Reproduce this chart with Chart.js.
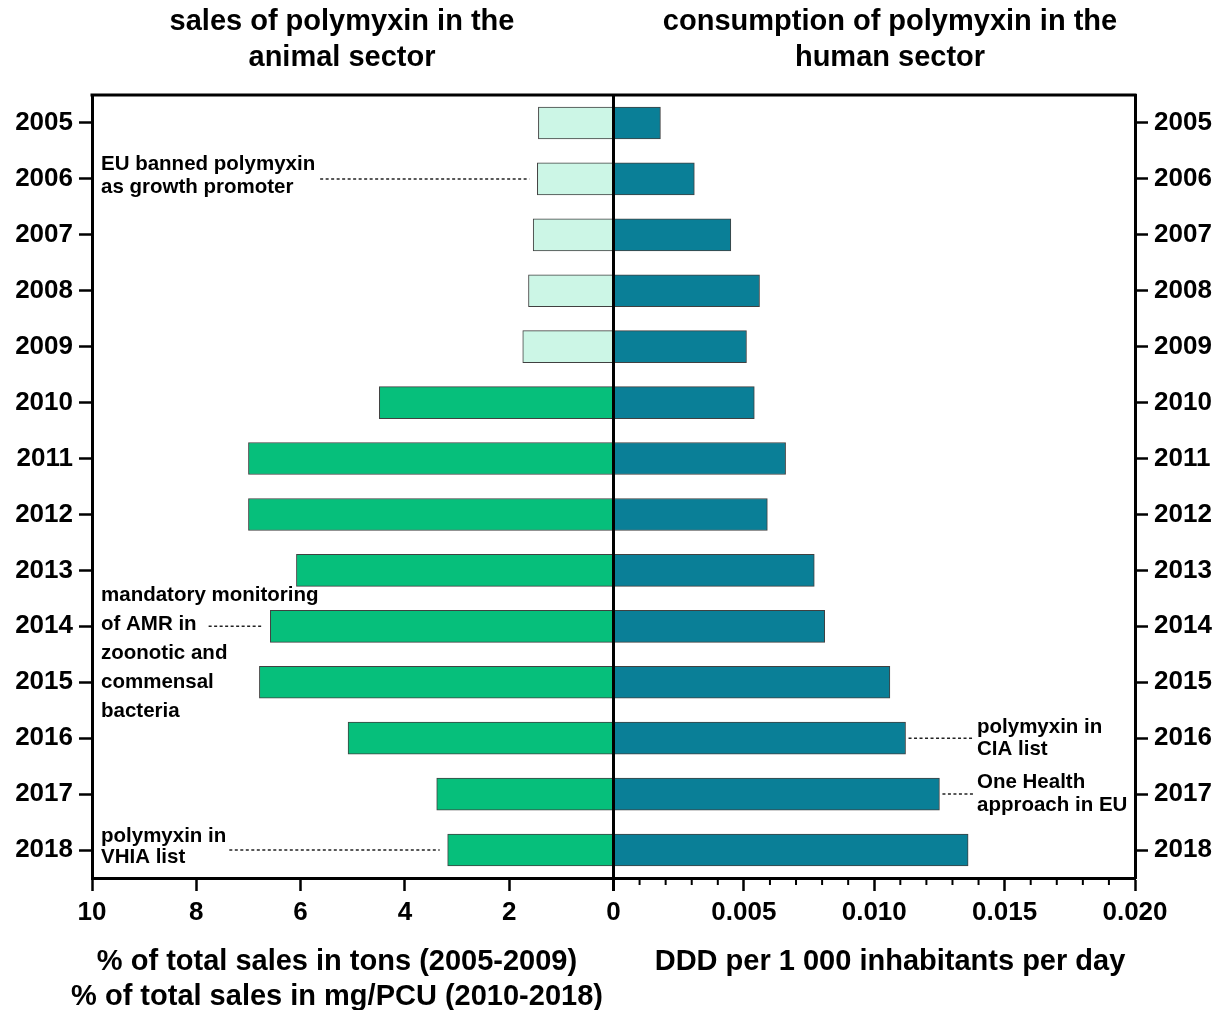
<!DOCTYPE html>
<html>
<head>
<meta charset="utf-8">
<script src="https://cdn.jsdelivr.net/npm/chart.js@4"></script>
<style>
body { margin: 0; background: #fff; }
#wrap { width: 1223px; height: 1010px; }
</style>
</head>
<body>
<div id="wrap"><canvas id="chart"></canvas></div>
<script>
var years = ["2005", "2006", "2007", "2008", "2009", "2010", "2011", "2012", "2013", "2014", "2015", "2016", "2017", "2018"];
// animal sector: % of total sales (tons until 2009, mg/PCU from 2010)
var animalSales = [1.44, 1.46, 1.54, 1.63, 1.74, 4.49, 7.0, 7.0, 6.08, 6.58, 6.79, 5.09, 3.39, 3.18];
// human sector: DDD per 1 000 inhabitants per day
var humanDDD = [0.0018, 0.0031, 0.0045, 0.0056, 0.0051, 0.0054, 0.0066, 0.0059, 0.0077, 0.0081, 0.0106, 0.0112, 0.0125, 0.0136];

var leftTickLabels = ["0", "2", "4", "6", "8", "10"];
var rightTickLabels = ["0.005", "0.010", "0.015", "0.020"];

var leftTitle = ["sales of polymyxin in the", "animal sector"];
var rightTitle = ["consumption of polymyxin in the", "human sector"];
var leftAxisTitle = ["% of total sales in tons (2005-2009)", "% of total sales in mg/PCU (2010-2018)"];
var rightAxisTitle = "DDD per 1 000 inhabitants per day";

var note2006 = ["EU banned polymyxin", "as growth promoter"];
var note2014 = ["mandatory monitoring", "of AMR in", "zoonotic and", "commensal", "bacteria"];
var note2018 = ["polymyxin in", "VHIA list"];
var note2016 = ["polymyxin in", "CIA list"];
var note2017 = ["One Health", "approach in EU"];

var FONT = "'Liberation Sans', Arial, sans-serif";
Chart.defaults.font.family = FONT;
Chart.defaults.color = "#000";

var mint = "#ccf6e6";
var green = "#06bf7b";
var teal = "#0a7f97";

function isMajor(v) {
	return Math.round(v / 0.001) % 5 === 0;
}

var notes = [
	{ year: "2006", side: "left", lines: note2006, first: -15, gap: 23, lead: 0, pad: 5 },
	{ year: "2014", side: "left", lines: note2014, first: -31, gap: 29, lead: 1, pad: 12 },
	{ year: "2018", side: "left", lines: note2018, first: -14, gap: 21, lead: 0, pad: 3 },
	{ year: "2016", side: "right", lines: note2016, first: -11, gap: 22 },
	{ year: "2017", side: "right", lines: note2017, first: -12, gap: 23 }
];

var decorations = {
	id: "decorations",
	afterDatasetsDraw: function (chart) {
		var ctx = chart.ctx, a = chart.chartArea;
		var xl = chart.scales.xl, xr = chart.scales.xr, y = chart.scales.y;
		ctx.save();
		ctx.strokeStyle = "#000";
		ctx.lineWidth = 3;
		ctx.beginPath();
		ctx.moveTo(a.left - 1.5, a.top);
		ctx.lineTo(a.right + 1.5, a.top);
		var x0 = xr.getPixelForValue(0);
		ctx.moveTo(x0, a.top);
		ctx.lineTo(x0, a.bottom + 13);
		ctx.stroke();

		// minor ticks on the right axis
		ctx.lineWidth = 2;
		ctx.beginPath();
		xr.ticks.forEach(function (t) {
			if (!isMajor(t.value)) {
				var px = xr.getPixelForValue(t.value);
				ctx.moveTo(px, a.bottom);
				ctx.lineTo(px, a.bottom + 7);
			}
		});
		ctx.stroke();

		// titles
		ctx.fillStyle = "#000";
		ctx.textAlign = "center";
		ctx.textBaseline = "middle";
		ctx.font = "bold 29px " + FONT;
		var lc = a.left + 250, rc = a.right - 245;
		ctx.fillText(leftTitle[0], lc, 22);
		ctx.fillText(leftTitle[1], lc, 58);
		ctx.fillText(rightTitle[0], rc, 22);
		ctx.fillText(rightTitle[1], rc, 58);
		ctx.fillText(leftAxisTitle[0], a.left + 245, a.bottom + 84);
		ctx.fillText(leftAxisTitle[1], a.left + 245, a.bottom + 119);
		ctx.fillText(rightAxisTitle, rc, a.bottom + 84);

		// annotations
		ctx.font = "bold 20.5px " + FONT;
		ctx.textAlign = "left";
		ctx.lineWidth = 1.5;
		ctx.strokeStyle = "#222";
		notes.forEach(function (n) {
			var i = years.indexOf(n.year);
			var yc = y.getPixelForValue(i);
			var tx = n.side === "left" ? a.left + 9 : a.right - 158;
			n.lines.forEach(function (s, k) {
				ctx.fillText(s, tx, yc + n.first + k * n.gap);
			});
			var x1, x2;
			if (n.side === "left") {
				x1 = tx + ctx.measureText(n.lines[n.lead]).width + n.pad;
				x2 = xl.getPixelForValue(animalSales[i]) - 8;
			} else {
				x1 = xr.getPixelForValue(humanDDD[i]) + 3;
				x2 = tx - 4;
			}
			ctx.setLineDash([3, 2.5]);
			ctx.beginPath();
			ctx.moveTo(x1, yc);
			ctx.lineTo(x2, yc);
			ctx.stroke();
			ctx.setLineDash([]);
		});
		ctx.restore();
	}
};

var yTicks = { color: "#000", font: { size: 26, weight: "bold" }, padding: 6 };
var yGrid = { offset: false, drawOnChartArea: false, tickLength: 13, tickWidth: 2.5, tickColor: "#000" };
var axisBorder = { color: "#000", width: 3 };

var chart = new Chart(document.getElementById("chart"), {
	type: "bar",
	data: {
		labels: years,
		datasets: [
			{
				label: "animal sector",
				data: animalSales,
				xAxisID: "xl",
				yAxisID: "y",
				backgroundColor: years.map(function (yr) { return +yr < 2010 ? mint : green; }),
				borderColor: "#404040",
				borderWidth: 1,
				barThickness: 32,
				grouped: false
			},
			{
				label: "human sector",
				data: humanDDD,
				xAxisID: "xr",
				yAxisID: "y",
				backgroundColor: teal,
				borderColor: "#404040",
				borderWidth: 1,
				barThickness: 32,
				grouped: false
			}
		]
	},
	options: {
		indexAxis: "y",
		animation: false,
		responsive: true,
		maintainAspectRatio: false,
		layout: { padding: { top: 95, left: 0, right: 0, bottom: 0 } },
		plugins: { legend: { display: false }, tooltip: { enabled: false } },
		scales: {
			y: {
				type: "category",
				position: "left",
				offset: true,
				grid: yGrid,
				border: axisBorder,
				ticks: yTicks,
				afterFit: function (s) { s.width = 92; }
			},
			y2: {
				type: "category",
				position: "right",
				offset: true,
				grid: yGrid,
				border: axisBorder,
				ticks: yTicks,
				afterFit: function (s) { s.width = 88; }
			},
			xl: {
				type: "linear",
				position: "bottom",
				stack: "bottom",
				stackWeight: 1,
				reverse: true,
				min: 0,
				max: 10,
				grid: { drawOnChartArea: false, tickLength: 13, tickWidth: 2.5, tickColor: "#000" },
				border: axisBorder,
				ticks: {
					stepSize: 2,
					autoSkip: false,
					color: "#000",
					font: { size: 26, weight: "bold" },
					padding: 6,
					maxRotation: 0,
					callback: function (v) { return leftTickLabels[Math.round(v / 2)]; }
				},
				afterFit: function (s) { s.height = 132; }
			},
			xr: {
				type: "linear",
				position: "bottom",
				stack: "bottom",
				stackWeight: 1,
				min: 0,
				max: 0.02,
				grid: {
					drawOnChartArea: false,
					tickLength: 13,
					tickWidth: 2.5,
					tickColor: function (c) { return c.tick && isMajor(c.tick.value) ? "#000" : "rgba(0,0,0,0)"; }
				},
				border: axisBorder,
				ticks: {
					stepSize: 0.001,
					autoSkip: false,
					maxRotation: 0,
					color: "#000",
					font: { size: 26, weight: "bold" },
					padding: 6,
					callback: function (v) {
						var k = Math.round(v / 0.001);
						if (k === 0 || k % 5 !== 0) return "";
						return rightTickLabels[k / 5 - 1];
					}
				},
				afterFit: function (s) { s.height = 132; }
			}
		}
	},
	plugins: [decorations]
});
</script>
</body>
</html>
